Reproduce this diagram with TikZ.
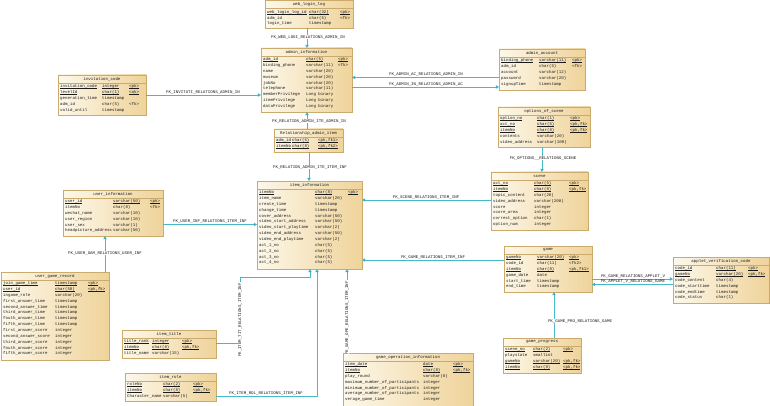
\documentclass[tikz,border=0pt]{standalone}
\usepackage{fontspec}
\setmonofont{Liberation Mono}
\usetikzlibrary{arrows.meta}
\definecolor{tblA}{HTML}{FDF8EA}
\definecolor{tblB}{HTML}{EFD39A}
\definecolor{tblE}{HTML}{CBAA6E}
\definecolor{fkc}{HTML}{46B8C8}
\definecolor{fkh}{HTML}{1E9FB2}
\definecolor{txt}{HTML}{1A1A1A}
\newcommand\tf{\fontsize{4.1}{5.85}\selectfont\ttfamily}
\newsavebox\pkbox
\newcommand\pk[1]{\leavevmode\sbox\pkbox{#1}\rlap{\rule[-0.9pt]{\wd\pkbox}{0.22pt}}\usebox\pkbox}
\tikzset{
  tbl/.style={draw=tblE, line width=0.4pt, left color=tblA, right color=tblB, anchor=north west, inner sep=0pt, outer sep=0pt},
  ttl/.style={font=\tf, text=txt, inner sep=0pt},
  rows/.style={font=\tf, text=txt, anchor=north west, inner sep=0pt},
  fk/.style={draw=fkc, line width=0.55pt, -{Triangle[length=3.2pt,width=3.4pt,fill=fkh]}},
  lbl/.style={font=\tf, text=txt, inner sep=0pt},
  vlbl/.style={font=\tf, text=txt, inner sep=0.6pt, fill=white},
}
% #1 id, #2 x, #3 y, #4 w, #5 h, #6 col1 width, #7 col2 width, #8 title, #9 rows
\newcommand\dbtable[9]{%
  \node[tbl, minimum width=#4pt, minimum height=#5pt] (#1) at (#2,#3) {};
  \node[ttl] (#1-t) at ([yshift=-4pt]#1.north) {#8};
  \draw[tblE, line width=0.4pt] ([yshift=-8pt]#1.north west) -- ([yshift=-8pt]#1.north east);
  \node[rows] (#1-r) at ([xshift=2pt,yshift=-8.4pt]#1.north west)
    {\begin{tabular}{@{}p{#6pt}@{}p{#7pt}@{}l@{}}#9\end{tabular}};
}
\begin{document}
\begin{tikzpicture}[x=1pt,y=-1pt]
\useasboundingbox (0,0) rectangle (770,406);
\fill[white] (0,0) rectangle (770,406);

\dbtable{wl}{265}{0.5}{88}{28}{42}{31}{web\_login\_log}{%
\pk{web\_login\_log\_id} & \pk{char(32)} & \pk{<pk>}\\
adm\_id & char(5) & <fk>\\
login\_time & timestamp & }

\dbtable{ai}{261}{48}{91}{64}{43}{32}{admin\_information}{%
\pk{adm\_id} & \pk{char(5)} & \pk{<pk>}\\
binding\_phone & varchar(11) & <fk>\\
name & varchar(20) & \\
museum & varchar(20) & \\
jobNo & varchar(20) & \\
telephone & varchar(11) & \\
memberPrivilege & Long binary & \\
itemPrivilege & Long binary & \\
dataPrivilege & Long binary & }

\dbtable{ac}{499}{49}{86}{41}{38}{33}{admin\_account}{%
\pk{binding\_phone} & \pk{varchar(11)} & \pk{<pk>}\\
adm\_id & char(5) & <fk>\\
account & varchar(12) & \\
password & varchar(20) & \\
signupTime & timestamp & }

\dbtable{os}{498}{107}{92}{40}{37}{33}{options\_of\_scene}{%
\pk{option\_no} & \pk{char(1)} & \pk{<pk>}\\
\pk{act\_no} & \pk{char(5)} & \pk{<pk,fk>}\\
\pk{itemNo} & \pk{char(8)} & \pk{<pk,fk>}\\
contents & varchar(20) & \\
video\_address & varchar(100) & }

\dbtable{ic}{58}{75}{88}{40}{42}{27}{invitation\_code}{%
\pk{invitation\_code} & \pk{integer} & \pk{<pk>}\\
\pk{levelId} & \pk{char(1)} & \pk{<ak>}\\
generation\_time & timestamp & \\
adm\_id & char(5) & <fk>\\
valid\_until & timestamp & }

\dbtable{ra}{274}{129}{69}{23}{16}{26}{Relationship\_admin\_item}{%
\pk{adm\_id} & \pk{char(5)} & \pk{<pk,fk1>}\\
\pk{itemNo} & \pk{char(8)} & \pk{<pk,fk2>}}

\dbtable{ii}{257}{181}{105}{88}{56}{33}{item\_information}{%
\pk{itemNo} & \pk{char(8)} & \pk{<pk>}\\
item\_name & varchar(20) & \\
create\_time & timestamp & \\
change\_time & timestamp & \\
cover\_address & varchar(50) & \\
video\_start\_address & varchar(50) & \\
video\_start\_playtime & varchar(2) & \\
video\_end\_address & varchar(50) & \\
video\_end\_playtime & varchar(2) & \\
act\_1\_no & char(5) & \\
act\_2\_no & char(5) & \\
act\_3\_no & char(5) & \\
act\_4\_no & char(5) & }

\dbtable{sc}{491}{172}{97}{58}{41}{35}{scene}{%
\pk{act\_no} & \pk{char(5)} & \pk{<pk>}\\
\pk{itemNo} & \pk{char(8)} & \pk{<pk,fk>}\\
topic\_content & char(20) & \\
video\_address & varchar(200) & \\
score & integer & \\
score\_area & integer & \\
correct\_option & char(1) & \\
option\_num & integer & }

\dbtable{gm}{504}{246}{88}{46}{31}{32}{game}{%
\pk{gameNo} & \pk{varchar(20)} & \pk{<pk>}\\
code\_id & char(11) & <fk2>\\
\pk{itemNo} & \pk{char(8)} & \pk{<pk,fk1>}\\
game\_date & date & \\
start\_time & timestamp & \\
end\_time & timestamp & }

\dbtable{av}{673}{257}{96}{46}{41}{32}{applet\_verification\_code}{%
\pk{code\_id} & \pk{char(11)} & \pk{<pk>}\\
\pk{gameNo} & \pk{varchar(20)} & \pk{<pk,fk>}\\
code\_content & char(4) & \\
code\_starttime & timestamp & \\
code\_endtime & timestamp & \\
code\_status & char(1) & }

\dbtable{ug}{1}{272}{108}{88}{52}{33}{user\_game\_record}{%
\pk{join\_game\_time} & \pk{timestamp} & \pk{<pk>}\\
\pk{user\_id} & \pk{char(50)} & \pk{<pk,fk>}\\
ingame\_role & varchar(20) & \\
first\_answer\_time & timestamp & \\
second\_answer\_time & timestamp & \\
third\_answer\_time & timestamp & \\
fouth\_answer\_time & timestamp & \\
fifth\_answer\_time & timestamp & \\
first\_answer\_score & integer & \\
second\_answer\_score & integer & \\
third\_answer\_score & integer & \\
fouth\_answer\_score & integer & \\
fifth\_answer\_score & integer & }

\dbtable{ui}{63}{190}{100}{46}{48}{37}{user\_information}{%
\pk{user\_id} & \pk{varchar(50)} & \pk{<pk>}\\
itemNo & char(8) & <fk>\\
wechat\_name & varchar(10) & \\
user\_region & varchar(10) & \\
user\_sex & varchar(1) & \\
headpicture\_address & varchar(50) & }

\dbtable{it}{122}{330}{94}{28}{28}{30}{item\_title}{%
\pk{title\_rank} & \pk{integer} & \pk{<pk>}\\
\pk{itemNo} & \pk{char(8)} & \pk{<pk,fk>}\\
title\_name & varchar(15) & }

\dbtable{ir}{125}{373}{91}{28}{36}{30}{item\_role}{%
\pk{roleNo} & \pk{char(2)} & \pk{<pk>}\\
\pk{itemNo} & \pk{char(8)} & \pk{<pk,fk>}\\
Character\_name & varchar(5) & }

\dbtable{go}{343}{353}{130}{53}{78}{30}{game\_operation\_information}{%
\pk{item\_date} & \pk{date} & \pk{<pk>}\\
\pk{itemNo} & \pk{char(8)} & \pk{<pk,fk>}\\
play\_round & varchar(8) & \\
maximum\_number\_of\_participants & integer & \\
minimum\_number\_of\_participants & integer & \\
average\_number\_of\_participants & integer & \\
verage\_game\_time & integer & }

\dbtable{gp}{503}{338}{78}{35}{28}{30}{game\_progress}{%
\pk{scene\_no} & \pk{char(2)} & \pk{<pk>}\\
playstate & smallint & \\
\pk{gameNo} & \pk{varchar(20)} & \pk{<pk,fk>}\\
\pk{itemNo} & \pk{char(8)} & \pk{<pk,fk>}}

% connectors
\draw[fk] (wl.south -| 307,0) -- (ai.north -| 307,0);
\draw[fk] (ac.west |- 0,77.5) -- (ai.east |- 0,77.5);
\draw[fk] (ai.east |- 0,87) -- (ac.west |- 0,87);
\draw[fk] (ic.east |- 0,95) -- (ai.west |- 0,95);
\draw[fk] (ra.north -| 307,0) -- (ai.south -| 307,0);
\draw[fk] (ra.south -| 309,0) -- (ii.north -| 309,0);
\draw[fk] (os.south -| 542,0) -- (sc.north -| 542,0);
\draw[fk] (sc.west |- 0,200) -- (ii.east |- 0,200);
\draw[fk] (ui.east |- 0,224.5) -- (ii.west |- 0,224.5);
\draw[fk] (gm.west |- 0,260) -- (ii.east |- 0,260);
\draw[fk] (ug.north -| 105,0) -- (ui.south -| 105,0);
\draw[fk] (gm.east |- 0,279) -- (av.west |- 0,279);
\draw[fk] (av.west |- 0,284.5) -- (gm.east |- 0,284.5);
\draw[fk] (gp.north -| 554,0) -- (gm.south -| 554,0);
\draw[fk] (it.east |- 0,343) -- (240,343) -- (240,277) -- (310,277) -- (ii.south -| 310,0);
\draw[fk] (ir.east |- 0,396) -- (317,396) -- (ii.south -| 317,0);
\draw[fk] (go.north -| 347,0) -- (ii.south -| 347,0);

% labels
\node[vlbl] (l1) at (308,37) {FK\_WEB\_LOGI\_RELATIONS\_ADMIN\_IN};
\node[lbl, anchor=south] (l2) at (426,76.5) {FK\_ADMIN\_AC\_RELATIONS\_ADMIN\_IN};
\node[lbl, anchor=south] (l3) at (426,86) {FK\_ADMIN\_IN\_RELATIONS\_ADMIN\_AC};
\node[lbl, anchor=south] (l4) at (203,94) {FK\_INVITATI\_RELATIONS\_ADMIN\_IN};
\node[vlbl] (l5) at (309,121) {FK\_RELATION\_ADMIN\_ITE\_ADMIN\_IN};
\node[vlbl] (l6) at (310,167) {FK\_RELATION\_ADMIN\_ITE\_ITEM\_INF};
\node[vlbl] (l7) at (543,158) {FK\_OPTIONS\_\_RELATIONS\_SCENE};
\node[lbl, anchor=south] (l8) at (426,199) {FK\_SCENE\_RELATIONS\_ITEM\_INF};
\node[lbl, anchor=south] (l9) at (210,223.5) {FK\_USER\_INF\_RELATIONS\_ITEM\_INF};
\node[lbl, anchor=south] (l10) at (433,259) {FK\_GAME\_RELATIONS\_ITEM\_INF};
\node[vlbl] (l11) at (105,253) {FK\_USER\_GAM\_RELATIONS\_USER\_INF};
\node[lbl, anchor=south] (l12) at (633,278) {FK\_GAME\_RELATIONS\_APPLET\_V};
\node[lbl, anchor=south] (l13) at (633,283.5) {FK\_APPLET\_V\_RELATIONS\_GAME};
\node[vlbl] (l14) at (580,321) {FK\_GAME\_PRO\_RELATIONS\_GAME};
\node[vlbl, rotate=90] (l15) at (240,320) {FK\_ITEM\_TIT\_RELATIONS\_ITEM\_INF};
\node[lbl, anchor=south] (l16) at (266,395) {FK\_ITEM\_ROL\_RELATIONS\_ITEM\_INF};
\node[vlbl, rotate=90] (l17) at (347,318) {FK\_GAME\_OPE\_RELATIONS\_ITEM\_INF};
\end{tikzpicture}
\end{document}
